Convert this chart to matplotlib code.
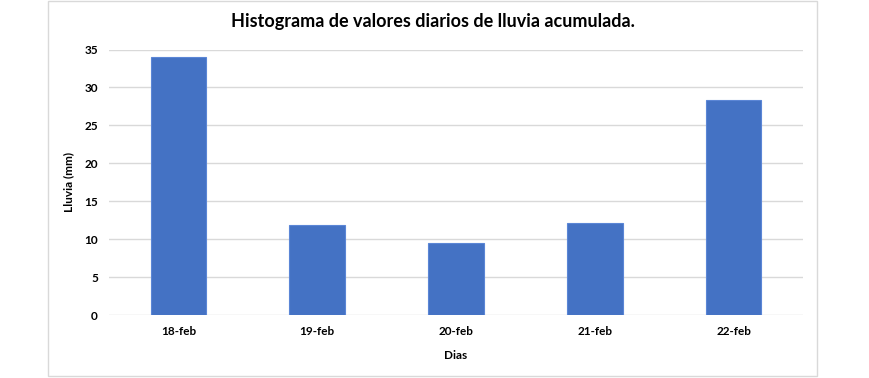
import matplotlib.pyplot as plt
from matplotlib.patches import Rectangle

# ── Data ─────────────────────────────────────────────────────────────────────
dias = ['18-feb', '19-feb', '20-feb', '21-feb', '22-feb']
lluvia_mm = [34.0, 11.8, 9.5, 12.1, 28.4]
y_ticks = [0, 5, 10, 15, 20, 25, 30, 35]

plt.rcParams['font.family'] = ['Lato', 'DejaVu Sans']

fig = plt.figure(figsize=(8.7, 3.78), dpi=100, facecolor='white')

# chart border (light gray frame like the spreadsheet chart)
fig.patches.append(Rectangle((48 / 870, 2 / 378), 769 / 870, 375 / 378,
                             transform=fig.transFigure, fill=False,
                             edgecolor='#d9d9d9', linewidth=1.0))

ax = fig.add_axes([109 / 870, 63 / 378, 694 / 870, 265.5 / 378])

x = range(len(dias))
ax.bar(x, lluvia_mm, width=0.4, color='#4472c4', edgecolor='#5b86d6',
       linewidth=0.8, zorder=3)

ax.set_xlim(-0.5, len(dias) - 0.5)
ax.set_ylim(0, 35)
ax.set_yticks(y_ticks)
ax.set_xticks(list(x))
ax.set_xticklabels(dias)

ax.grid(axis='y', color='#d9d9d9', linewidth=1.0, zorder=0)
for s in ax.spines.values():
    s.set_visible(False)
ax.tick_params(axis='both', length=0, labelsize=8.5)
ax.tick_params(axis='y', pad=8)
ax.tick_params(axis='x', pad=8)
for lbl in ax.get_xticklabels() + ax.get_yticklabels():
    lbl.set_fontweight('bold')

ax.set_ylabel('Lluvia (mm)', fontsize=8.5, fontweight='bold', labelpad=7)
ax.set_xlabel('Dias', fontsize=8.5, fontweight='bold', labelpad=9)

fig.text(433 / 870, 1 - 22 / 378,
         'Histograma de valores diarios de lluvia acumulada.',
         ha='center', va='center', fontsize=13, fontweight='bold')

fig.savefig('out.png', dpi=100, facecolor='white')
